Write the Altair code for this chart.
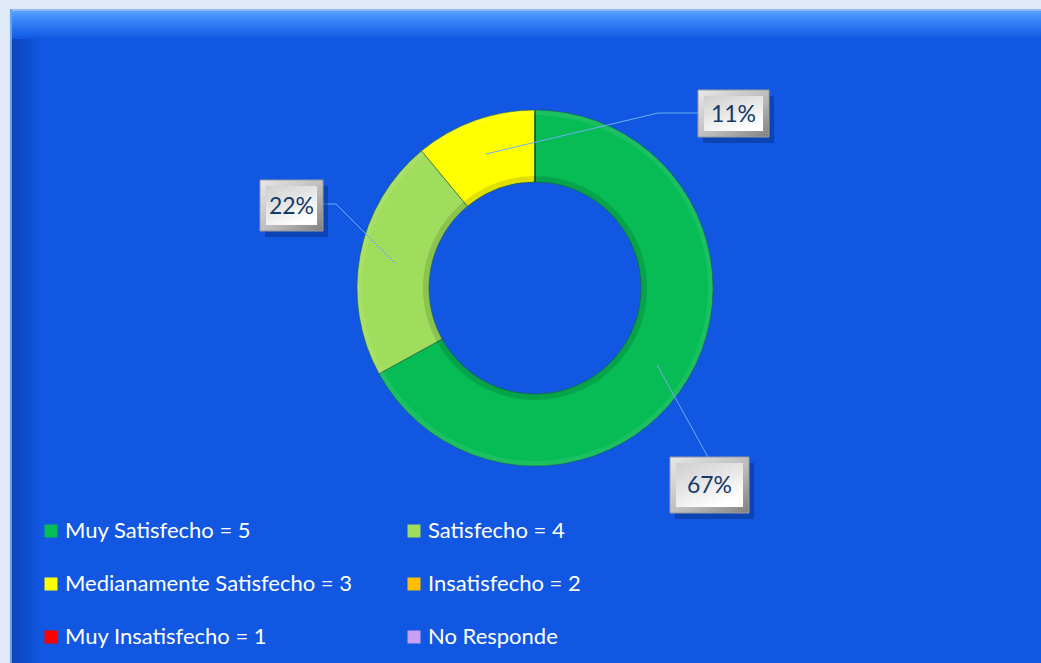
import altair as alt
import pandas as pd

# ---------------- data ----------------
categories = [
    "Muy Satisfecho = 5",
    "Satisfecho = 4",
    "Medianamente Satisfecho = 3",
    "Insatisfecho = 2",
    "Muy Insatisfecho = 1",
    "No Responde",
]
values = [67, 22, 11, 0, 0, 0]
colors = ["#07BB55", "#A0DD5C", "#FFFF00", "#FFC000", "#FF0000", "#C9A0F5"]

label_texts = ["67%", "22%", "11%"]

# ---------------- layout (pixel positions of the callout boxes, view coords) ----------------
box_x1 = [660, 250, 688]
box_x2 = [739, 313, 759]
box_y1 = [448, 171, 81]
box_y2 = [504, 222, 128]

# leader line paths (view coords)
lead_label = ["67%", "67%", "22%", "22%", "22%", "11%", "11%", "11%"]
lead_ord = [0, 1, 0, 1, 2, 0, 1, 2]
lead_x = [647, 698, 385, 326, 313, 476, 648, 688]
lead_y = [356, 448, 254, 195, 195, 145, 104, 104]

W, H = 1031, 654
CX, CY = 525, 279

df = pd.DataFrame({"cat": categories, "value": values, "idx": list(range(len(values)))})

boxes = pd.DataFrame({"label": label_texts, "x1": box_x1, "x2": box_x2, "y1": box_y1, "y2": box_y2})
leads = pd.DataFrame({"label": lead_label, "o": lead_ord, "x": lead_x, "y": lead_y})
one = pd.DataFrame({"a": [0]})

# ---------------- panel decoration ----------------
top_glow = alt.Chart(one).mark_rect(
    color=alt.LinearGradient(
        gradient="linear", x1=0, x2=0, y1=0, y2=1,
        stops=[alt.GradientStop(color="#5FA6FF", offset=0),
               alt.GradientStop(color="#3A88FA", offset=0.35),
               alt.GradientStop(color="#1157E1", offset=1)],
    )
).encode(x=alt.value(0), x2=alt.value(W), y=alt.value(0), y2=alt.value(30))

left_shade = alt.Chart(one).mark_rect(
    color=alt.LinearGradient(
        gradient="linear", x1=0, x2=1, y1=0, y2=0,
        stops=[alt.GradientStop(color="#0A44B8", offset=0),
               alt.GradientStop(color="#1157E1", offset=1)],
    )
).encode(x=alt.value(0), x2=alt.value(30), y=alt.value(30), y2=alt.value(H))

top_line = alt.Chart(one).mark_rule(color="#8DBEF7", strokeWidth=2).encode(
    x=alt.value(0), x2=alt.value(W), y=alt.value(1)
)
left_line = alt.Chart(one).mark_rule(color="#6A9FEA", strokeWidth=2).encode(
    x=alt.value(1), y=alt.value(0), y2=alt.value(H)
)

# ---------------- donut ----------------
theta = alt.Theta("value:Q", stack=True)
order = alt.Order("idx:Q")

donut = alt.Chart(df).mark_arc(
    innerRadius=106, outerRadius=178, stroke="#1C5E33", strokeWidth=0.8, strokeOpacity=0.7
).encode(
    theta=theta,
    order=order,
    color=alt.Color(
        "cat:N",
        scale=alt.Scale(domain=categories, range=colors),
        legend=alt.Legend(
            title=None,
            orient="none",
            legendX=30,
            legendY=511,
            direction="horizontal",
            columns=2,
            columnPadding=50,
            rowPadding=31,
            symbolType="square",
            symbolSize=169,
            symbolStrokeWidth=0,
            symbolOpacity=1,
            labelColor="#FFFFFF",
            labelFont="Lato",
            labelFontSize=22,
            labelOffset=3,
            labelLimit=500,
        ),
    ),
    x=alt.value(CX),
    y=alt.value(CY),
)

rim_light = alt.Chart(df).mark_arc(innerRadius=173, outerRadius=178, color="#FFFFFF", opacity=0.08).encode(
    theta=theta, order=order, x=alt.value(CX), y=alt.value(CY)
)
rim_dark = alt.Chart(df).mark_arc(innerRadius=106, outerRadius=112, color="#000000", opacity=0.12).encode(
    theta=theta, order=order, x=alt.value(CX), y=alt.value(CY)
)

# ---------------- leader lines ----------------
lines = alt.Chart(leads).mark_line(color="#6CB0F2", strokeWidth=1).encode(
    x=alt.X("x:Q", scale=None),
    y=alt.Y("y:Q", scale=None),
    detail="label:N",
    order="o:Q",
)

# ---------------- callout boxes ----------------
bx = alt.Chart(boxes)
shadow = bx.transform_calculate(
    sx1="datum.x1 + 5", sx2="datum.x2 + 5", sy1="datum.y1 + 6", sy2="datum.y2 + 6"
).mark_rect(color="#082E7E", opacity=0.45).encode(
    x=alt.X("sx1:Q", scale=None), x2="sx2:Q", y=alt.Y("sy1:Q", scale=None), y2="sy2:Q"
)
outer = bx.mark_rect(
    color=alt.LinearGradient(
        gradient="linear", x1=0, x2=1, y1=0, y2=1,
        stops=[alt.GradientStop(color="#E8E8E8", offset=0),
               alt.GradientStop(color="#B8B8B8", offset=0.6),
               alt.GradientStop(color="#7F7F7F", offset=1)],
    ),
    stroke="#9A9A9A", strokeWidth=1,
).encode(x=alt.X("x1:Q", scale=None), x2="x2:Q", y=alt.Y("y1:Q", scale=None), y2="y2:Q")
inner = bx.transform_calculate(
    ix1="datum.x1 + 6", ix2="datum.x2 - 6", iy1="datum.y1 + 6", iy2="datum.y2 - 6"
).mark_rect(
    color=alt.LinearGradient(
        gradient="linear", x1=0, x2=0.6, y1=0, y2=1,
        stops=[alt.GradientStop(color="#CFCFCF", offset=0),
               alt.GradientStop(color="#E6E6E6", offset=0.5),
               alt.GradientStop(color="#FFFFFF", offset=1)],
    )
).encode(x=alt.X("ix1:Q", scale=None), x2="ix2:Q", y=alt.Y("iy1:Q", scale=None), y2="iy2:Q")
texts = bx.transform_calculate(
    tx="(datum.x1 + datum.x2) / 2", ty="(datum.y1 + datum.y2) / 2 + 1"
).mark_text(font="Lato", fontSize=23, color="#143A66", baseline="middle", align="center").encode(
    x=alt.X("tx:Q", scale=None), y=alt.Y("ty:Q", scale=None), text="label:N"
)

chart = alt.layer(
    top_glow, left_shade, top_line, left_line,
    donut, rim_light, rim_dark,
    lines,
    shadow, outer, inner, texts,
).properties(
    width=W,
    height=H,
    autosize=alt.AutoSizeParams(type="none"),
    padding={"left": 10, "top": 9, "right": 0, "bottom": 0},
    background="#DFE9F8",
).configure_view(
    fill="#1157E1", stroke=None
)

chart.save("out.html", embed_options={"renderer": "svg", "actions": False})
